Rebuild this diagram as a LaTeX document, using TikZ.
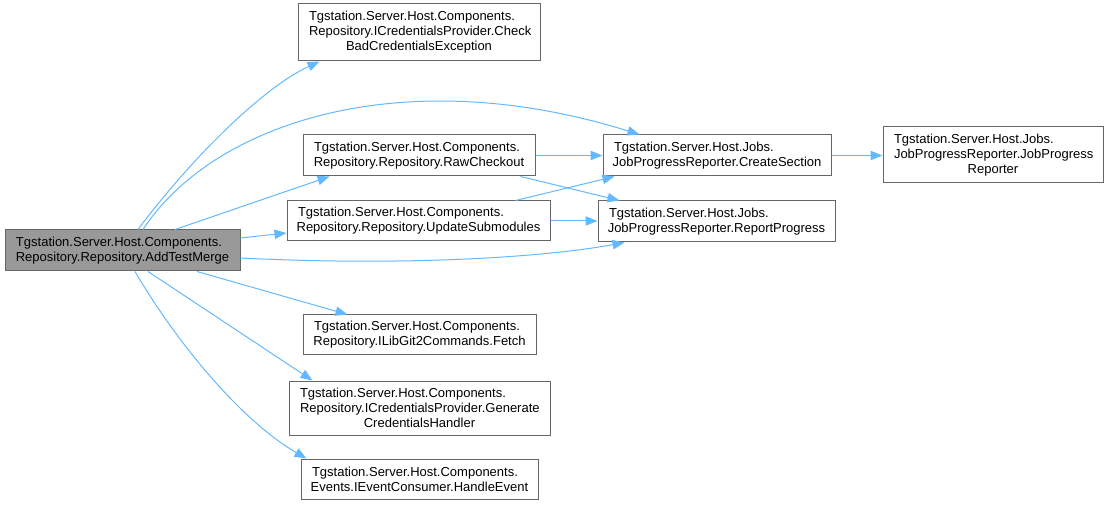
\documentclass[tikz,border=0pt]{standalone}
\usepackage{fontspec}
\setmainfont{Liberation Sans}
\usetikzlibrary{arrows.meta,calc}
\definecolor{azulflecha}{HTML}{63B8FF}
\definecolor{bordegris}{HTML}{666666}
\definecolor{fondogris}{HTML}{999999}
% la última línea de cada rótulo va centrada, las demás a la izquierda
\newcommand{\ultima}[1]{\makebox[\hsize]{#1}}

\begin{document}
\begin{tikzpicture}[
    x=0.75pt, y=-0.75pt,
    font=\fontsize{9.75}{11.25}\selectfont,
    metodo/.style={draw=bordegris, line width=0.75pt, rectangle,
      inner xsep=8.25pt, inner ysep=0pt, align=left},
    raiz/.style={metodo, fill=fondogris},
    llamada/.style={draw=azulflecha, line width=0.75pt,
      -{Triangle[length=9pt, width=7pt]}}
  ]
  % Las coordenadas van en píxeles de la imagen (origen arriba a la izquierda).
  \useasboundingbox (0,0) rectangle (1108,506);

  % --- nodos ---
  \node[raiz, text width=159.75pt, minimum height=30.75pt] (addtestmerge) at (122.5,250.5)
    {Tgstation.Server.Host.Components.\\\ultima{Repository.Repository.AddTestMerge}};
  \node[metodo, text width=165pt, minimum height=42.75pt] (checkbad) at (419,32.5)
    {Tgstation.Server.Host.Components.\\Repository.ICredentialsProvider.Check\\\ultima{BadCredentialsException}};
  \node[metodo, text width=157.5pt, minimum height=30.75pt] (rawcheckout) at (419,155.5)
    {Tgstation.Server.Host.Components.\\\ultima{Repository.Repository.RawCheckout}};
  \node[metodo, text width=180.75pt, minimum height=30pt] (updatesub) at (418.5,221)
    {Tgstation.Server.Host.Components.\\\ultima{Repository.Repository.UpdateSubmodules}};
  \node[metodo, text width=154.5pt, minimum height=30.75pt] (createsection) at (717,155.5)
    {Tgstation.Server.Host.Jobs.\\\ultima{JobProgressReporter.CreateSection}};
  \node[metodo, text width=161.25pt, minimum height=30.75pt] (reportprogress) at (716.5,221.5)
    {Tgstation.Server.Host.Jobs.\\\ultima{JobProgressReporter.ReportProgress}};
  \node[metodo, text width=148.5pt, minimum height=42pt] (jobreporter) at (993,155)
    {Tgstation.Server.Host.Jobs.\\JobProgressReporter.JobProgress\\\ultima{Reporter}};
  \node[metodo, text width=158.25pt, minimum height=30pt] (fetch) at (419.5,335)
    {Tgstation.Server.Host.Components.\\\ultima{Repository.ILibGit2Commands.Fetch}};
  \node[metodo, text width=179.25pt, minimum height=40.5pt] (generate) at (419.5,408)
    {Tgstation.Server.Host.Components.\\Repository.ICredentialsProvider.Generate\\\ultima{CredentialsHandler}};
  \node[metodo, text width=161.25pt, minimum height=30pt] (handleevent) at (419.5,479)
    {Tgstation.Server.Host.Components.\\\ultima{Events.IEventConsumer.HandleEvent}};

  % --- llamadas desde AddTestMerge ---
  \draw[llamada] ($(addtestmerge.north)+(15.5,0)$) .. controls (190,160) and (262,88) .. ($(checkbad.south west)+(22,0)$);
  \draw[llamada] ($(addtestmerge.north)+(20.5,0)$) .. controls (212,124) and (400,60) .. ($(createsection.north west)+(37,0)$);
  \draw[llamada] ($(addtestmerge.north)+(52.5,0)$) -- ($(rawcheckout.south west)+(27,0)$);
  \draw[llamada] ($(addtestmerge.east)+(0,-12.5)$) -- ($(updatesub.west)+(0,12)$);
  \draw[llamada] ($(addtestmerge.east)+(0,7.5)$) .. controls (400,266) and (540,258) .. ($(reportprogress.south west)+(27,0)$);
  \draw[llamada] ($(addtestmerge.south)+(74.5,0)$) -- ($(fetch.north west)+(45,0)$);
  \draw[llamada] ($(addtestmerge.south)+(25.5,0)$) -- ($(generate.north west)+(24,0)$);
  \draw[llamada] ($(addtestmerge.south)+(12.5,0)$) .. controls (175,340) and (240,420) .. ($(handleevent.north west)+(6,0)$);

  % --- llamadas entre los demás métodos ---
  \draw[llamada] (rawcheckout.east) -- (createsection.west);
  \draw[llamada] ($(rawcheckout.south east)+(-15,0)$) -- ($(reportprogress.north west)+(22,0)$);
  \draw[llamada] ($(updatesub.north east)+(-35,0)$) -- ($(createsection.south west)+(12,0)$);
  \draw[llamada] (updatesub.east) -- (updatesub.east -| reportprogress.west);
  \draw[llamada] (createsection.east) -- (createsection.east -| jobreporter.west);
\end{tikzpicture}
\end{document}
